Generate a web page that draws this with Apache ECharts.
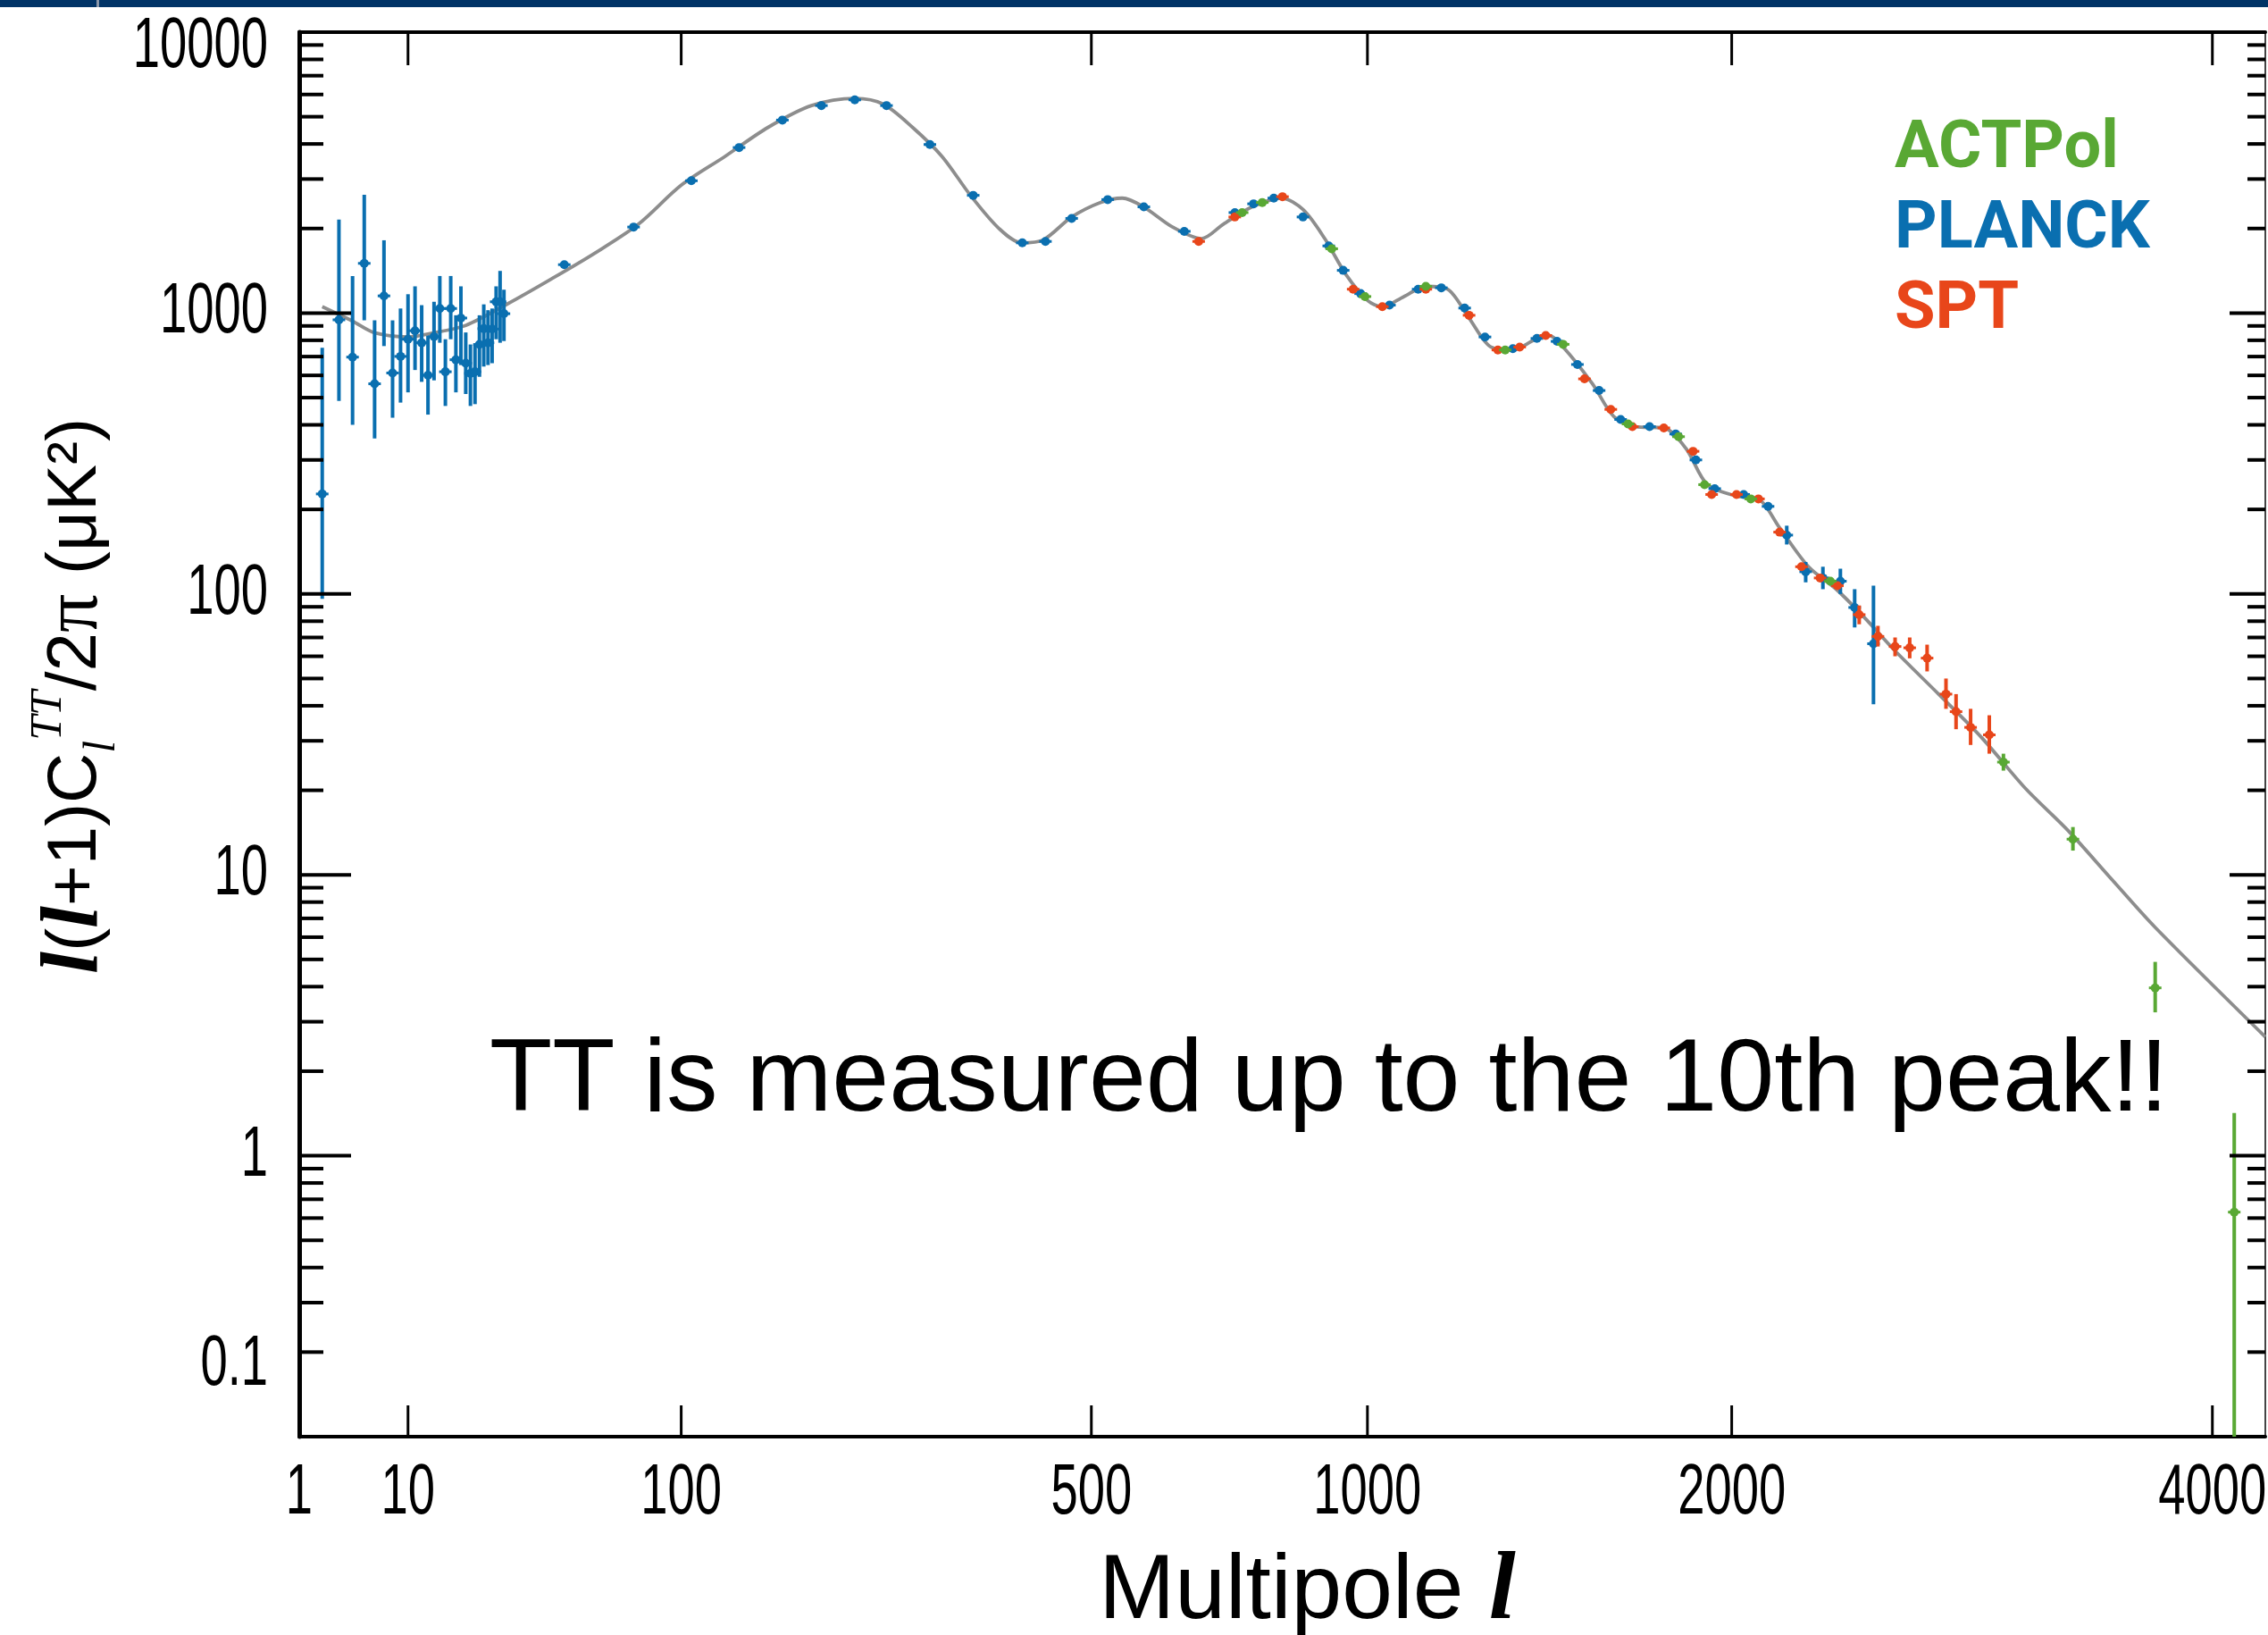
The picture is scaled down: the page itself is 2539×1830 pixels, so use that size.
<!DOCTYPE html>
<html><head><meta charset="utf-8">
<script src="https://cdn.jsdelivr.net/npm/echarts@6/dist/echarts.min.js"></script>
<style>html,body{margin:0;padding:0;background:#fff}#c{width:2539px;height:1830px}</style>
</head><body><div id="c"></div>
<script>
// ---------- data ----------
const theoryL = [2,4,6,10,14,20,30,43,59,78,100,126,155,188,225,251,280,311,343,377,405,433,472,513,546,579,626,675,713,766,822,865,909,954,1001,1033,1082,1133,1185,1238,1293,1350,1408,1447,1486,1568,1631,1695,1782,1851,1920,2016,2090,2163,2265,2370,2476,2588,2760,2937,3124,3315,3514,3718,4272];
const theoryD = [1054,936,851,822,851,904,1079,1321,1634,2070,2851,3614,4584,5479,5811,5546,4584,3614,2625,1999,1778,1820,2198,2475,2566,2388,2024,1841,2070,2388,2566,2333,1841,1368,1106,1054,1145,1245,1216,959,757,739,803,832,757,562,428,394,390,330,245,223,218,172,125,103,81.4,62.7,44.0,30.8,20.3,14.3,9.6,6.5,2.65];

const planckLowL  = [2,3,4,5,6,7,8,9,10,11,12,13,14,15,16,17,18,19,20,21,22,23,24,25,26,27,28,29];
const planckLowD  = [227,946,697,1503,560,1151,612,701,807,865,784,601,824,1038,618,1038,682,960,663,610,618,773,880,784,877,1097,1097,995];
const planckLowLo = [96,487,400,942,358,763,424,480,522,627,569,435,576,784,467,807,522,653,515,467,474,593,645,653,663,807,784,795];
const planckLowHi = [752,2151,1355,2636,942,1816,942,1038,1167,1245,1067,830,1097,1355,807,1355,982,1245,853,773,773,982,1074,1024,1038,1245,1413,1211];

const planckBinL  = [47.5,75.8,105.7,135,165.4,196,224.7,254.2,298.1,346.2,406,436.2,472,524,579.4,645.5,734.2,768.7,807.2,864.6,917.3,947.7,985.1,1049,1115,1170,1227,1278,1350,1414,1469,1526,1588,1651,1738,1819,1883,1944,2040,2123,2188,2255,2317,2381,2434,2505];
const planckBinD  = [1487,2024,2958,3884,4864,5479,5741,5479,3981,2625,1778,1799,2173,2535,2388,1954,2279,2448,2566,2198,1734,1419,1173,1067,1216,1230,1042,822,747,812,793,656,530,418,394,371,300,237,226,205,162,120,114,111,89.5,66.5];
const planckBinLo = [null,null,null,null,null,null,null,null,null,null,null,null,null,null,null,null,null,null,null,null,null,null,null,null,null,null,null,null,null,null,null,null,null,null,null,null,null,null,null,null,150,110,104,100,76,40.5];
const planckBinHi = [null,null,null,null,null,null,null,null,null,null,null,null,null,null,null,null,null,null,null,null,null,null,null,null,null,null,null,null,null,null,null,null,null,null,null,null,null,null,null,null,175,130,125,123,104,107];

const sptL  = [670,734,824,969,1033,1133,1238,1311,1368,1438,1546,1622,1686,1782,1874,1934,2016,2090,2163,2240,2307,2370,2451,2522,2588,2645,2714,2790,2831,2891,2969];
const sptD  = [1799,2198,2596,1216,1054,1216,982,739,757,832,583,454,394,390,322,226,226,218,166,125,114,107,84.4,70.6,65.0,64.3,59.1,44.0,38.1,33.5,31.5];
const sptLo = [null,null,null,null,null,null,null,null,null,null,null,null,null,null,null,null,null,null,null,null,null,null,78,65,60,59,53,39,33,29,27];
const sptHi = [null,null,null,null,null,null,null,null,null,null,null,null,null,null,null,null,null,null,null,null,null,null,91,77,70,70,66,50,44,39,37];

const actL  = [747.5,785.1,923.5,994.6,1133,1330,1486,1673,1828,1911,2064,2344,3029,3334,3718,4111];
const actD  = [2279,2475,1694,1145,1245,739,774,403,363,245,218,111,25.2,13.4,3.96,0.63];
const actLo = [null,null,null,null,null,null,null,null,null,null,null,null,23.5,12.2,3.24,0.1];
const actHi = [null,null,null,null,null,null,null,null,null,null,null,null,27,14.8,4.9,1.42];

const xTickValues = [1,10,100,500,1000,2000,4000];
const xTickLabels = ['1','10','100','500','1000','2000','4000'];
const yMajorValues = [10000,1000,100,10,1];
const yLabelValues = [10000,1000,100,10,1,0.2];
const yLabelTexts  = ['10000','1000','100','10','1','0.1'];
const legendNames = ['ACTPol','PLANCK','SPT'];
const annotation = 'TT is measured up to the 10th peak!!';

// ---------- helpers ----------
const P = 0.4;                       // multipole axis drawn as l^0.4
function tx(l){ return Math.pow(l, P); }
const X_MIN = 1, X_MAX = tx(4272);

const COL = {ACTPol:'#59a834', PLANCK:'#0a6fb0', SPT:'#e8461a'};

function build(L, D, Lo, Hi){
  return L.map((l,i)=>{
    const lo = (Lo && Lo[i] != null) ? Lo[i] : D[i];
    const hi = (Hi && Hi[i] != null) ? Hi[i] : D[i];
    return [tx(l), D[i], lo, hi];
  });
}
const planckData = build(planckLowL, planckLowD, planckLowLo, planckLowHi)
  .concat(build(planckBinL, planckBinD, planckBinLo, planckBinHi));
const sptData = build(sptL, sptD, sptLo, sptHi);
const actData = build(actL, actD, actLo, actHi);

function pointRender(color){
  return function(params, api){
    const t = api.value(0), d = api.value(1), lo = api.value(2), hi = api.value(3);
    const c = api.coord([t, d]);
    const ch = [];
    if (hi > lo) {
      const a = api.coord([t, lo]), b = api.coord([t, hi]);
      ch.push({type:'line', shape:{x1:c[0], y1:a[1], x2:c[0], y2:b[1]}, style:{stroke:color, lineWidth:4}});
    }
    ch.push({type:'line', shape:{x1:c[0]-7, y1:c[1], x2:c[0]+7, y2:c[1]}, style:{stroke:color, lineWidth:3}});
    ch.push({type:'circle', shape:{cx:c[0], cy:c[1], r:5}, style:{fill:color}});
    return {type:'group', children:ch};
  };
}

// tick lists (axis decoration)
const yTickData = [];
yMajorValues.forEach(v => yTickData.push([1, v, 1]));
[1000,100,10,1,0.1].forEach(dec => { for (let k=2;k<=9;k++) yTickData.push([1, dec*k, 0]); });
const xTickData = xTickValues.map(l => [tx(l), 1]);
const yLabData = yLabelValues.map((v,i) => [1, v, i]);
const xLabData = xTickValues.map((l,i) => [tx(l), 1, i]);

const LABEL_FONT = "'Liberation Sans', Arial, sans-serif";

const chart = echarts.init(document.getElementById('c'), null, {renderer:'canvas'});
chart.setOption({
  animation: false,
  backgroundColor: '#fff',
  grid: {left: 335, top: 36, right: 3, bottom: 222, containLabel: false, outerBoundsMode: 'none'},
  xAxis: [
    {type:'value', min:X_MIN, max:X_MAX, position:'bottom',
     axisLine:{show:true, onZero:false, lineStyle:{color:'#000', width:4}},
     axisTick:{show:false}, axisLabel:{show:false}, splitLine:{show:false},
     name:'{n|Multipole }{l|l}', nameLocation:'middle', nameGap:121,
     nameTextStyle:{padding:[0,0,0,56], rich:{
       n:{fontFamily:LABEL_FONT, fontSize:102, color:'#000'},
       l:{fontFamily:"'Liberation Serif', serif", fontStyle:'italic', fontWeight:'bold', fontSize:108, color:'#000'}}}},
    {type:'value', min:X_MIN, max:X_MAX, position:'top',
     axisLine:{show:true, onZero:false, lineStyle:{color:'#000', width:4}},
     axisTick:{show:false}, axisLabel:{show:false}, splitLine:{show:false}}
  ],
  yAxis: [
    {type:'log', logBase:10, min:0.1, max:10000, position:'left',
     axisLine:{show:true, onZero:false, lineStyle:{color:'#000', width:5}},
     axisTick:{show:false}, axisLabel:{show:false}, splitLine:{show:false},
     name:'{l|l}{n|(}{l|l}{n|+1)C}{sub|l}{sup|TT}{n|/2}{pi|π}{n| (μK²)}',
     nameLocation:'middle', nameRotate:90, nameGap:195,
     nameTextStyle:{padding:[0,0,0,86], rich:{
       n:{fontFamily:LABEL_FONT, fontSize:78, color:'#000', lineHeight:110},
       l:{fontFamily:"'Liberation Serif', serif", fontStyle:'italic', fontWeight:'bold', fontSize:90, color:'#000', lineHeight:110},
       pi:{fontFamily:"'Liberation Serif', serif", fontSize:86, color:'#000', lineHeight:110},
       sub:{fontFamily:"'Liberation Serif', serif", fontStyle:'italic', fontSize:50, color:'#000', verticalAlign:'bottom'},
       sup:{fontFamily:"'Liberation Serif', serif", fontStyle:'italic', fontSize:50, color:'#000', verticalAlign:'top'}}}},
    {type:'log', logBase:10, min:0.1, max:10000, position:'right',
     axisLine:{show:true, onZero:false, lineStyle:{color:'#444', width:2}},
     axisTick:{show:false}, axisLabel:{show:false}, splitLine:{show:false}}
  ],
  legend: {
    orient:'vertical', left:2116, top:130, padding:0, itemGap:14,
    itemWidth:0, itemHeight:0, icon:'none', selectedMode:false,
    textStyle:{fontSize:74, fontWeight:'bold', fontFamily:"Roboto, 'Liberation Sans', sans-serif", lineHeight:76},
    data: legendNames.map(n => ({name:n, textStyle:{color:COL[n]}}))
  },
  graphic: [
    {type:'rect', left:0, top:0, shape:{width:2539, height:8}, style:{fill:'#003366'}, z:100},
    {type:'rect', left:108, top:0, shape:{width:3, height:8}, style:{fill:'#8a96a8'}, z:101},
    {type:'text', left:548, top:1154, style:{text:annotation, fontSize:115, fontFamily:LABEL_FONT, fill:'#000'}, z:50}
  ],
  series: [
    {name:'theory', type:'line', data: theoryL.map((l,i)=>[tx(l), theoryD[i]]),
     showSymbol:false, smooth:0.3, lineStyle:{color:'#8d8d8d', width:3.8}, z:2, silent:true},
    {name:'PLANCK', type:'custom', data: planckData, renderItem: pointRender(COL.PLANCK), z:4, silent:true},
    {name:'SPT', type:'custom', data: sptData, renderItem: pointRender(COL.SPT), z:5, silent:true},
    {name:'ACTPol', type:'custom', data: actData, renderItem: pointRender(COL.ACTPol), z:6, silent:true},
    {name:'yticks', type:'custom', data: yTickData, silent:true, z:8,
     renderItem: function(params, api){
       const cs = params.coordSys, y = api.coord([1, api.value(1)])[1], major = api.value(2) === 1;
       const lenL = major ? 58 : 27, lenR = major ? 40 : 20;
       return {type:'group', children:[
         {type:'line', shape:{x1:cs.x, y1:y, x2:cs.x+lenL, y2:y}, style:{stroke:'#000', lineWidth:4}},
         {type:'line', shape:{x1:cs.x+cs.width, y1:y, x2:cs.x+cs.width-lenR, y2:y}, style:{stroke:'#000', lineWidth:4}}
       ]};
     }},
    {name:'xticks', type:'custom', data: xTickData, silent:true, z:8,
     renderItem: function(params, api){
       const cs = params.coordSys, x = api.coord([api.value(0), 1])[0];
       return {type:'group', children:[
         {type:'line', shape:{x1:x, y1:cs.y+cs.height, x2:x, y2:cs.y+cs.height-35}, style:{stroke:'#000', lineWidth:3}},
         {type:'line', shape:{x1:x, y1:cs.y, x2:x, y2:cs.y+37}, style:{stroke:'#000', lineWidth:3}}
       ]};
     }},
    {name:'ylabels', type:'custom', data: yLabData, silent:true, z:8,
     renderItem: function(params, api){
       const cs = params.coordSys, v = api.value(1), i = api.value(2);
       let y = api.coord([1, v])[1];
       if (i === 0) y += 17;
       if (i === yLabelTexts.length - 1) y += 15;
       return {type:'text', x: cs.x - 35, y: y, scaleX: 0.68,
         style:{x:0, y:0, text: yLabelTexts[i], fontSize:80, fontFamily:LABEL_FONT, fill:'#000',
                align:'right', verticalAlign:'middle', textAlign:'right', textVerticalAlign:'middle'}};
     }},
    {name:'xlabels', type:'custom', data: xLabData, silent:true, z:8,
     renderItem: function(params, api){
       const cs = params.coordSys, i = api.value(2);
       const x = api.coord([api.value(0), 1])[0];
       return {type:'text', x: x, y: cs.y + cs.height + 64, scaleX: 0.68,
         style:{x:0, y:0, text: xTickLabels[i], fontSize:80, fontFamily:LABEL_FONT, fill:'#000',
                align:'center', verticalAlign:'middle', textAlign:'center', textVerticalAlign:'middle'}};
     }}
  ]
});
</script>
</body></html>
